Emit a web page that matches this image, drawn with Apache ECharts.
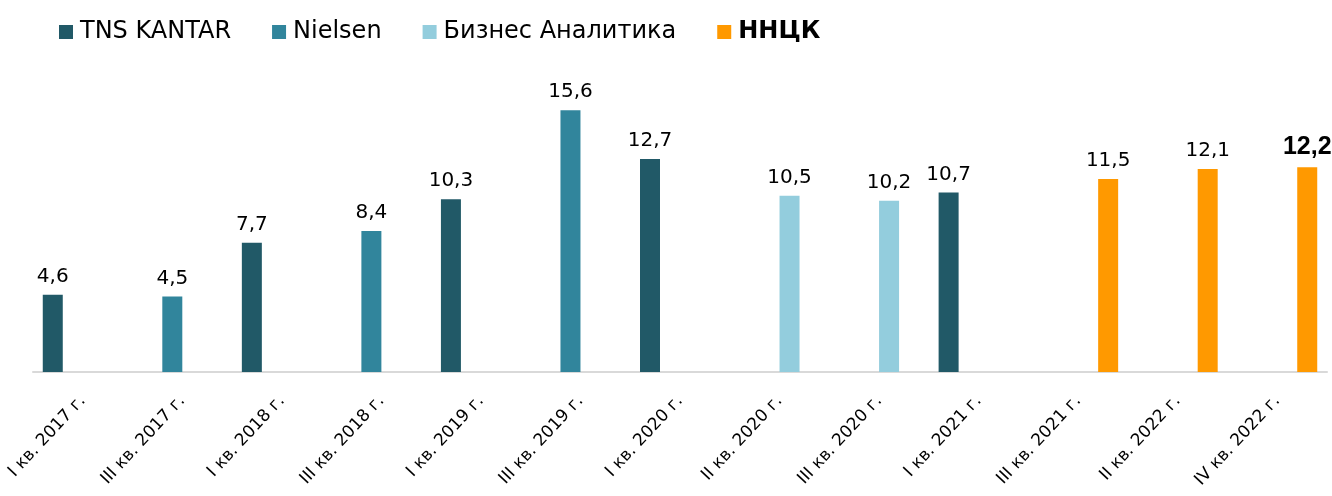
<!DOCTYPE html>
<html>
<head>
<meta charset="utf-8">
<script src="https://cdn.jsdelivr.net/npm/echarts@6/dist/echarts.min.js"></script>
<style>
  html, body { margin: 0; padding: 0; background: #fff; }
  #chart { width: 1332px; height: 496px; }
</style>
</head>
<body>
<div id="chart"></div>
<script>
const categories = [
  'I кв. 2017 г.', 'III кв. 2017 г.', 'I кв. 2018 г.', 'III кв. 2018 г.',
  'I кв. 2019 г.', 'III кв. 2019 г.', 'I кв. 2020 г.', 'II кв. 2020 г.',
  'III кв. 2020 г.', 'I кв. 2021 г.', 'III кв. 2021 г.', 'II кв. 2022 г.',
  'IV кв. 2022 г.'
];
const tnsKantar = [4.6, null, 7.7, null, 10.3, null, 12.7, null, null, 10.7, null, null, null];
const nielsen = [null, 4.5, null, 8.4, null, 15.6, null, null, null, null, null, null, null];
const biznesAnalitika = [null, null, null, null, null, null, null, 10.5, 10.2, null, null, null, null];
const nnck = [null, null, null, null, null, null, null, null, null, null, 11.5, 12.1, 12.2];

const font = 'DejaVu Sans';
const chart = echarts.init(document.getElementById('chart'));

const labelOpt = {
  show: true,
  position: 'top',
  distance: 8,
  fontFamily: font,
  fontSize: 20,
  color: '#000',
  formatter: p => String(p.value).replace('.', ',')
};

function makeSeries(name, data, color) {
  return {
    name: name,
    type: 'bar',
    data: data,
    barWidth: 20,
    barGap: '0%',
    itemStyle: { color: color },
    label: labelOpt
  };
}

// last value is highlighted
const nnckData = nnck.map((v, i) => i === nnck.length - 1
  ? { value: v, label: { fontWeight: 'bold', fontSize: 25, fontFamily: 'Liberation Sans' } }
  : v);

chart.setOption({
  animation: false,
  legend: {
    left: 54,
    top: 15,
    itemWidth: 14,
    itemHeight: 14,
    itemGap: 41,
    icon: 'rect',
    textStyle: { fontFamily: font, fontSize: 24, color: '#000', padding: [0, 0, 0, 2] },
    data: [
      'TNS KANTAR', 'Nielsen', 'Бизнес Аналитика',
      { name: 'ННЦК', textStyle: { fontWeight: 'bold' } }
    ]
  },
  grid: { left: 33, right: 5, top: 70, bottom: 124 },
  xAxis: {
    type: 'category',
    data: categories,
    axisLine: { lineStyle: { color: '#D9D9D9', width: 2 } },
    axisTick: { show: false },
    axisLabel: {
      interval: 0,
      rotate: 47,
      margin: 26,
      fontFamily: font,
      fontSize: 17,
      color: '#000'
    }
  },
  yAxis: {
    type: 'value',
    min: 0,
    max: 18,
    show: false,
    splitLine: { show: false }
  },
  series: [
    makeSeries('TNS KANTAR', tnsKantar, '#215967'),
    makeSeries('Nielsen', nielsen, '#31859C'),
    makeSeries('Бизнес Аналитика', biznesAnalitika, '#93CDDD'),
    makeSeries('ННЦК', nnckData, '#FF9900')
  ]
});
</script>
</body>
</html>
